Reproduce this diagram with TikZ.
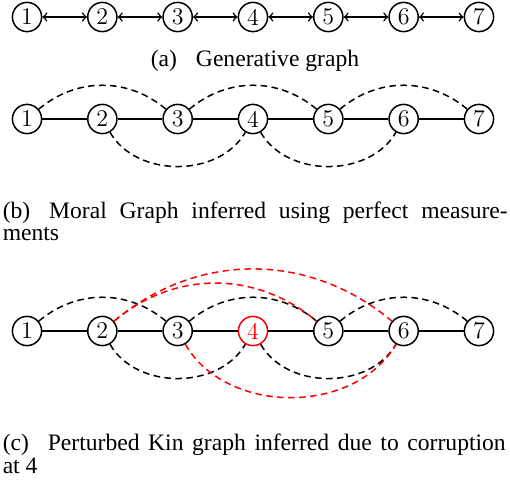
\documentclass[tikz,border=0pt]{standalone}
\usepackage{fontspec}
\newfontfamily\capfont{Liberation Serif}
\usetikzlibrary{arrows}
\tikzstyle{every picture}+=[>=to]
\tikzstyle{every picture}+=[line width=0.75pt]
\tikzstyle{vnode}=[circle,draw,minimum size=14.6pt,inner sep=0pt,font=\fontsize{12}{14}\selectfont]
\tikzstyle{moral}=[dash pattern=on 3.3pt off 2.2pt]
\tikzstyle{kin}=[moral,red]
\tikzstyle{overarc}=[out=40,in=140]
\tikzstyle{underarc}=[out=-60,in=-120]
\tikzstyle{capt}=[font=\capfont\fontsize{11.8}{11.5}\selectfont,inner sep=0pt]

\begin{document}
\begin{tikzpicture}[x=0.5pt,y=-0.5pt]
\useasboundingbox (0,0) rectangle (510,482);

% (a) generative graph
\foreach \i in {1,...,7}
  \node[vnode] (a\i) at ({27+75.33*(\i-1)},17) {\i};
\foreach \i [count=\j from 2] in {1,...,6}
  \draw[<->] (a\i) -- (a\j);
\node[capt,anchor=base] (capa) at (255,67) {(a)\hskip0.8em Generative graph};

% (b) moral graph
\foreach \i in {1,...,7}
  \node[vnode] (b\i) at ({27+75.33*(\i-1)},119) {\i};
\foreach \i [count=\j from 2] in {1,...,6}
  \draw (b\i) -- (b\j);
\draw[moral] (b1) to[overarc] (b3);
\draw[moral] (b3) to[overarc] (b5);
\draw[moral] (b5) to[overarc] (b7);
\draw[moral] (b2) to[underarc] (b4);
\draw[moral] (b4) to[underarc] (b6);
\node[capt,anchor=base west] (capb) at (2,218)
  {\makebox[252.5pt][s]{(b)\hskip0.8em Moral Graph inferred using perfect measure-}};
\node[capt,anchor=base west] (capbb) at (2,240) {ments};

% (c) perturbed kin graph
\foreach \i in {1,2,3,5,6,7}
  \node[vnode] (c\i) at ({27+75.33*(\i-1)},331) {\i};
\node[vnode,red] (c4) at ({27+75.33*3},331) {4};
\foreach \i [count=\j from 2] in {1,...,6}
  \draw (c\i) -- (c\j);
\draw[moral] (c1) to[overarc] (c3);
\draw[moral] (c3) to[overarc] (c5);
\draw[moral] (c5) to[overarc] (c7);
\draw[moral] (c2) to[underarc] (c4);
\draw[moral] (c4) to[underarc] (c6);
\draw[kin] (c2) to[overarc] (c5);
\draw[kin] (c2) to[overarc] (c6);
\draw[kin] (c3) to[underarc] (c6);
\node[capt,anchor=base west] (capc) at (2,450)
  {\makebox[251.5pt][s]{(c)\hskip0.8em Perturbed Kin graph inferred due to corruption}};
\node[capt,anchor=base west] (capcc) at (2,473) {at 4};
\end{tikzpicture}
\end{document}
